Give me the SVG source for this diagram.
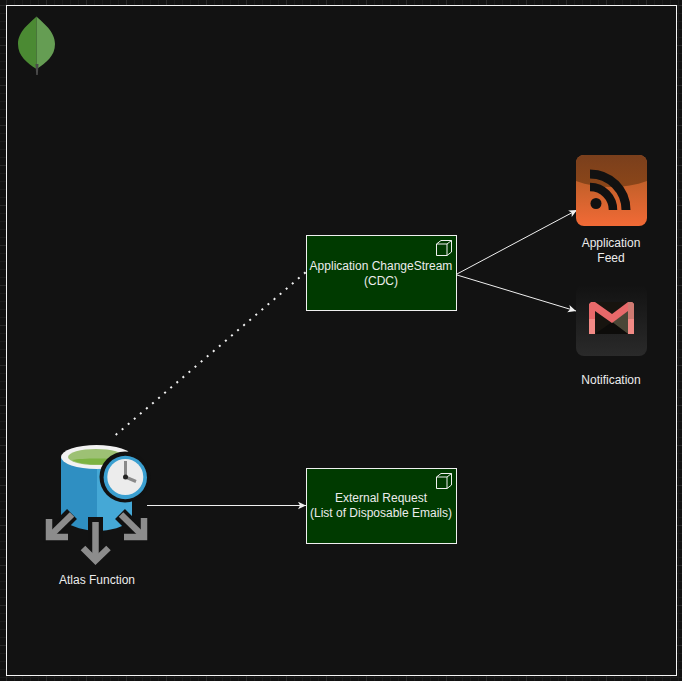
<svg xmlns="http://www.w3.org/2000/svg" width="682" height="681" viewBox="0 0 682 681">
<style>
.lbl{font-family:"Liberation Sans",Arial,sans-serif;font-size:12px;fill:#ececec;text-anchor:middle}
.box{fill:#003a00;stroke:#f0f0f0;stroke-width:1}
.cube{fill:none;stroke:#f0f0f0;stroke-width:1}
.edge{fill:none;stroke:#f0f0f0;stroke-width:1}
</style>
<defs>
<pattern id="minor" width="8" height="8" patternUnits="userSpaceOnUse" x="6" y="5"><path d="M0.5 0V8M0 0.5H8" fill="none" stroke="#1c1c1c" stroke-width="1"/></pattern>
<pattern id="major" width="40" height="40" patternUnits="userSpaceOnUse" x="6" y="5"><path d="M0.5 0V40M0 0.5H40" fill="none" stroke="#2a2a2a" stroke-width="1"/></pattern>
<marker id="arr" markerWidth="10" markerHeight="10" refX="8" refY="4" orient="auto" markerUnits="userSpaceOnUse"><path d="M0 0.2L8 4L0 7.800L2 4Z" fill="#f0f0f0"/></marker>
<linearGradient id="rss" x1="0" y1="0" x2="0" y2="1"><stop offset="0" stop-color="#a9562a"/><stop offset="0.4" stop-color="#c4602a"/><stop offset="1" stop-color="#f26a36"/></linearGradient>
<linearGradient id="rssTop" x1="0" y1="0" x2="0" y2="1"><stop offset="0" stop-color="#7a3f1c"/><stop offset="1" stop-color="#8b4619"/></linearGradient>
<linearGradient id="mail" x1="0" y1="0" x2="0" y2="1"><stop offset="0" stop-color="#121212"/><stop offset="1" stop-color="#2a2a2a"/></linearGradient>
</defs>
<rect width="682" height="681" fill="#121212"/>
<rect width="682" height="681" fill="url(#minor)"/>
<rect width="682" height="681" fill="url(#major)"/>
<rect id="frame" x="6.500" y="5.500" width="670" height="670" fill="#121212" stroke="#f5f5f5" stroke-width="1"/>
<g id="mongodb-leaf">
<path d="M36.500 16.500C30 23 18 31 18 44C18 56 27 63 36.500 69Z" fill="#4b8a33"/>
<path d="M36.500 16.500C43 23 55 31 55 44C55 56 46 63 36.500 69Z" fill="#659d53"/>
<path d="M35.500 64H38.500L37.800 75H36.200Z" fill="#4a4a4a"/>
</g>
<g id="connectors">
<path class="edge" d="M115.700 434.900L306 272" stroke-dasharray="2 6" style="stroke-width:2"/>
<path class="edge" marker-end="url(#arr)" d="M457 274L577 210"/>
<path class="edge" marker-end="url(#arr)" d="M457 275L576 311"/>
<path class="edge" marker-end="url(#arr)" d="M147 505.500H306"/>
</g>
<g id="atlas-function">
<path d="M61 457V520C72 527 86 531 97 531V457Z" fill="#2f8fc2"/>
<path d="M97 457V531C110 531 124 527 132 520V457Z" fill="#45a8d6"/>
<ellipse cx="96.500" cy="457" rx="35.500" ry="12" fill="#f2f2f2"/>
<ellipse cx="96" cy="457" rx="28" ry="8" fill="#9dc174"/>
<path d="M72 460C82 466 112 466 122 460C112 458 82 458 72 460Z" fill="#7cb342"/>
<circle cx="125" cy="477" r="25.500" fill="#111"/>
<circle cx="125.300" cy="477.500" r="21.700" fill="#3a9fd0"/>
<circle cx="125.300" cy="477" r="18" fill="#ececec"/>
<path d="M125.500 477V461M125.500 477L136 481.500" stroke="#8a8a8a" stroke-width="3" fill="none"/>
<circle cx="125.500" cy="477" r="2.500" fill="#222"/>
<g fill="none" stroke="#111" stroke-width="14"><path d="M55 531L72 514"/><path d="M137 531L120 514"/><path d="M95.500 517V545" stroke-width="15"/><path d="M49 519V537H68" stroke-width="12"/><path d="M144 519V537H124" stroke-width="12"/></g>
<g fill="none" stroke="#8c8c8c" stroke-width="6.500"><path d="M95.500 522V559"/><path d="M83 548L95.500 560.500L108.500 548"/><path d="M49 537L72 514.500"/><path d="M49 519V537H68"/><path d="M144 537L121 514.500"/><path d="M144 518V537H124"/></g>
<text class="lbl" x="97" y="584">Atlas Function</text>
</g>
<g id="change-stream">
<rect class="box" x="306.500" y="235.500" width="150" height="75"/>
<path class="cube" d="M436.500 244L441 240.500H451.500V252L447 255.500H436.500ZM436.500 244H447V255.500M447 244L451.500 240.500"/>
<text class="lbl" x="381" y="270">Application ChangeStream</text>
<text class="lbl" x="381" y="285">(CDC)</text>
</g>
<g id="external-request">
<rect class="box" x="306.500" y="468.500" width="150" height="75"/>
<path class="cube" d="M436.500 477L441 473.500H451.500V485L447 488.500H436.500ZM436.500 477H447V488.500M447 477L451.500 473.500"/>
<text class="lbl" x="381" y="502">External Request</text>
<text class="lbl" x="381" y="517">(List of Disposable Emails)</text>
</g>
<g id="application-feed">
<rect x="576" y="155" width="71" height="71" rx="8" fill="url(#rss)"/>
<path d="M576 163a8 8 0 0 1 8-8H639a8 8 0 0 1 8 8V181C625 189 598 189 576 181Z" fill="url(#rssTop)"/>
<circle cx="596" cy="203.500" r="5.500" fill="#111"/>
<path d="M590 187A23 23 0 0 1 613 210" fill="none" stroke="#111" stroke-width="8.500"/>
<path d="M590 174A36 36 0 0 1 626 210" fill="none" stroke="#111" stroke-width="9"/>
<text class="lbl" x="611" y="247">Application</text>
<text class="lbl" x="611" y="262">Feed</text>
</g>
<g id="notification">
<rect x="576" y="285" width="71" height="71" rx="8" fill="url(#mail)"/>
<path d="M595 302H628V334H595Z" fill="#17140f"/>
<path d="M612 322L628 310V334Z" fill="#4a4636"/>
<path d="M595 334L612 322L628 334Z" fill="#0d0c0a"/>
<path d="M589 304L591 302H595L612 314L628 302H632L634 304V334H628V311L612 323L595 311V334H589Z" fill="#e8696a"/>
<path d="M589 319V334H595V319ZM628 319V334H634V319Z" fill="#f28a85"/>
<path d="M628 302H632L634 304V319H628Z" fill="#cf7a72"/>
<text class="lbl" x="611" y="384">Notification</text>
</g>
</svg>
